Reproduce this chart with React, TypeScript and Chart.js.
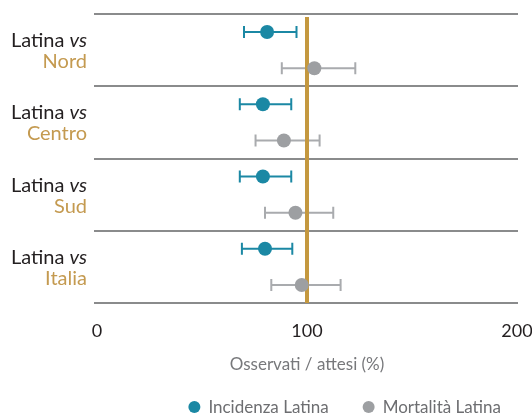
import React, { useEffect, useRef } from 'react';
import { Chart, registerables } from 'chart.js';

Chart.register(...registerables);

// ---- data ----
const groupNames = ['Nord', 'Centro', 'Sud', 'Italia'];
const groupPrefix = 'Latina ';
const groupVs = 'vs';
const seriesNames = ['Incidenza Latina', 'Mortalità Latina'];
const incidenza = [81, 79, 79, 80];
const incidenzaLow = [70, 68, 68, 69];
const incidenzaHigh = [95, 92.5, 92.5, 93];
const mortalita = [103.5, 89, 94.5, 97.5];
const mortalitaLow = [88, 75.5, 80, 83];
const mortalitaHigh = [123, 106, 112.5, 116];
const xTicks = [0, 100, 200];
const referenceValue = 100;
const axisTitle = 'Osservati / attesi (%)';

const TEAL = '#1b88a4';
const GRAY_DOT = '#9d9fa2';
const GRAY_BAR = '#a9abae';
const GOLD = '#c4983f';
const GOLD_TEXT = '#c49a50';
const GRID = '#8a8b8c';
const FONT = 'Lato, "Open Sans", sans-serif';

function buildPoints(vals: number[], lows: number[], highs: number[], offset: number) {
  return vals.map((v, i) => ({ x: v, y: i * 2 + offset, low: lows[i], high: highs[i] }));
}

const forestPlugin = {
  id: 'forest',
  beforeDatasetsDraw(chart: any) {
    const { ctx, chartArea, scales } = chart;
    const xs = scales.x;
    const ys = scales.y;
    ctx.save();
    // group separators
    ctx.strokeStyle = GRID;
    ctx.lineWidth = 2;
    for (let g = 0; g <= groupNames.length; g++) {
      const y = Math.round(ys.getPixelForValue(g * 2));
      ctx.beginPath();
      ctx.moveTo(chartArea.left - 3, y);
      ctx.lineTo(chartArea.right + 1, y);
      ctx.stroke();
    }
    // error bars
    chart.data.datasets.forEach((ds: any, di: number) => {
      const color = di === 0 ? TEAL : GRAY_BAR;
      ctx.strokeStyle = color;
      ctx.lineWidth = 2;
      ds.data.forEach((p: any) => {
        const y = ys.getPixelForValue(p.y);
        const x1 = xs.getPixelForValue(p.low);
        const x2 = xs.getPixelForValue(p.high);
        ctx.beginPath();
        ctx.moveTo(x1, y);
        ctx.lineTo(x2, y);
        ctx.moveTo(x1, y - 6);
        ctx.lineTo(x1, y + 6);
        ctx.moveTo(x2, y - 6);
        ctx.lineTo(x2, y + 6);
        ctx.stroke();
      });
    });
    // reference line
    const rx = xs.getPixelForValue(referenceValue);
    ctx.strokeStyle = GOLD;
    ctx.lineWidth = 4;
    ctx.beginPath();
    ctx.moveTo(rx, chartArea.top + 3);
    ctx.lineTo(rx, chartArea.bottom);
    ctx.stroke();
    ctx.restore();
  },
  afterDraw(chart: any) {
    const { ctx, chartArea, scales } = chart;
    const ys = scales.y;
    ctx.save();
    // group labels
    const rightX = chartArea.left - 10;
    groupNames.forEach((name, g) => {
      const cy = (ys.getPixelForValue(g * 2) + ys.getPixelForValue(g * 2 + 2)) / 2;
      ctx.textAlign = 'right';
      ctx.textBaseline = 'alphabetic';
      ctx.font = 'italic 20px ' + FONT;
      ctx.fillStyle = '#231f20';
      const vsW = ctx.measureText(groupVs).width;
      ctx.fillText(groupVs, rightX, cy - 3);
      ctx.font = '20px ' + FONT;
      ctx.fillText(groupPrefix, rightX - vsW, cy - 3);
      ctx.fillStyle = GOLD_TEXT;
      ctx.fillText(name, rightX, cy + 18);
    });
    // legend
    ctx.font = '17px ' + FONT;
    ctx.textAlign = 'left';
    ctx.textBaseline = 'middle';
    const ly = 407;
    const colors = [TEAL, GRAY_DOT];
    const widths = seriesNames.map((s) => ctx.measureText(s).width);
    const itemGap = 34;
    const markW = 20;
    const total = widths.reduce((a, b) => a + b + markW, 0) + itemGap;
    let x = chartArea.right - 16 - total;
    seriesNames.forEach((s, i) => {
      ctx.fillStyle = colors[i];
      ctx.beginPath();
      ctx.arc(x + 6, ly, 6, 0, Math.PI * 2);
      ctx.fill();
      ctx.fillStyle = '#6d6e71';
      ctx.fillText(s, x + markW, ly + 1);
      x += markW + widths[i] + itemGap;
    });
    ctx.restore();
  },
};

export default function App() {
  const ref = useRef<HTMLCanvasElement | null>(null);
  useEffect(() => {
    if (!ref.current) return;
    const chart = new Chart(ref.current, {
      type: 'scatter',
      data: {
        datasets: [
          {
            label: seriesNames[0],
            data: buildPoints(incidenza, incidenzaLow, incidenzaHigh, 0.5) as any,
            backgroundColor: TEAL,
            borderWidth: 0,
            pointRadius: 7,
            pointHoverRadius: 7,
          },
          {
            label: seriesNames[1],
            data: buildPoints(mortalita, mortalitaLow, mortalitaHigh, 1.5) as any,
            backgroundColor: GRAY_DOT,
            borderWidth: 0,
            pointRadius: 7,
            pointHoverRadius: 7,
          },
        ],
      },
      options: {
        responsive: false,
        animation: false,
        devicePixelRatio: 1,
        layout: { padding: { left: 97, right: 15, top: 14, bottom: 42 } },
        plugins: { legend: { display: false }, tooltip: { enabled: false } },
        scales: {
          x: {
            type: 'linear',
            min: 0,
            max: 200,
            afterBuildTicks: (axis: any) => {
              axis.ticks = xTicks.map((v) => ({ value: v }));
            },
            afterFit: (axis: any) => {
              axis.height = 73;
              axis.paddingLeft = 0;
              axis.paddingRight = 0;
            },
            grid: { display: false, drawTicks: false },
            border: { display: false },
            ticks: {
              padding: 17,
              color: '#231f20',
              font: { family: FONT, size: 18 },
              maxRotation: 0,
              autoSkip: false,
            },
            title: {
              display: true,
              text: axisTitle,
              color: '#77787b',
              font: { family: FONT, size: 17 },
              padding: { top: 17, bottom: 1 },
            },
          },
          y: {
            type: 'linear',
            min: 0,
            max: groupNames.length * 2,
            reverse: true,
            display: false,
          },
        },
      },
      plugins: [forestPlugin],
    });
    return () => chart.destroy();
  }, []);
  return (
    <div style={{ position: 'fixed', left: 0, top: 0, width: 532, height: 418, background: '#fff' }}>
      <canvas ref={ref} width={532} height={418} style={{ width: 532, height: 418, display: 'block' }} />
    </div>
  );
}
